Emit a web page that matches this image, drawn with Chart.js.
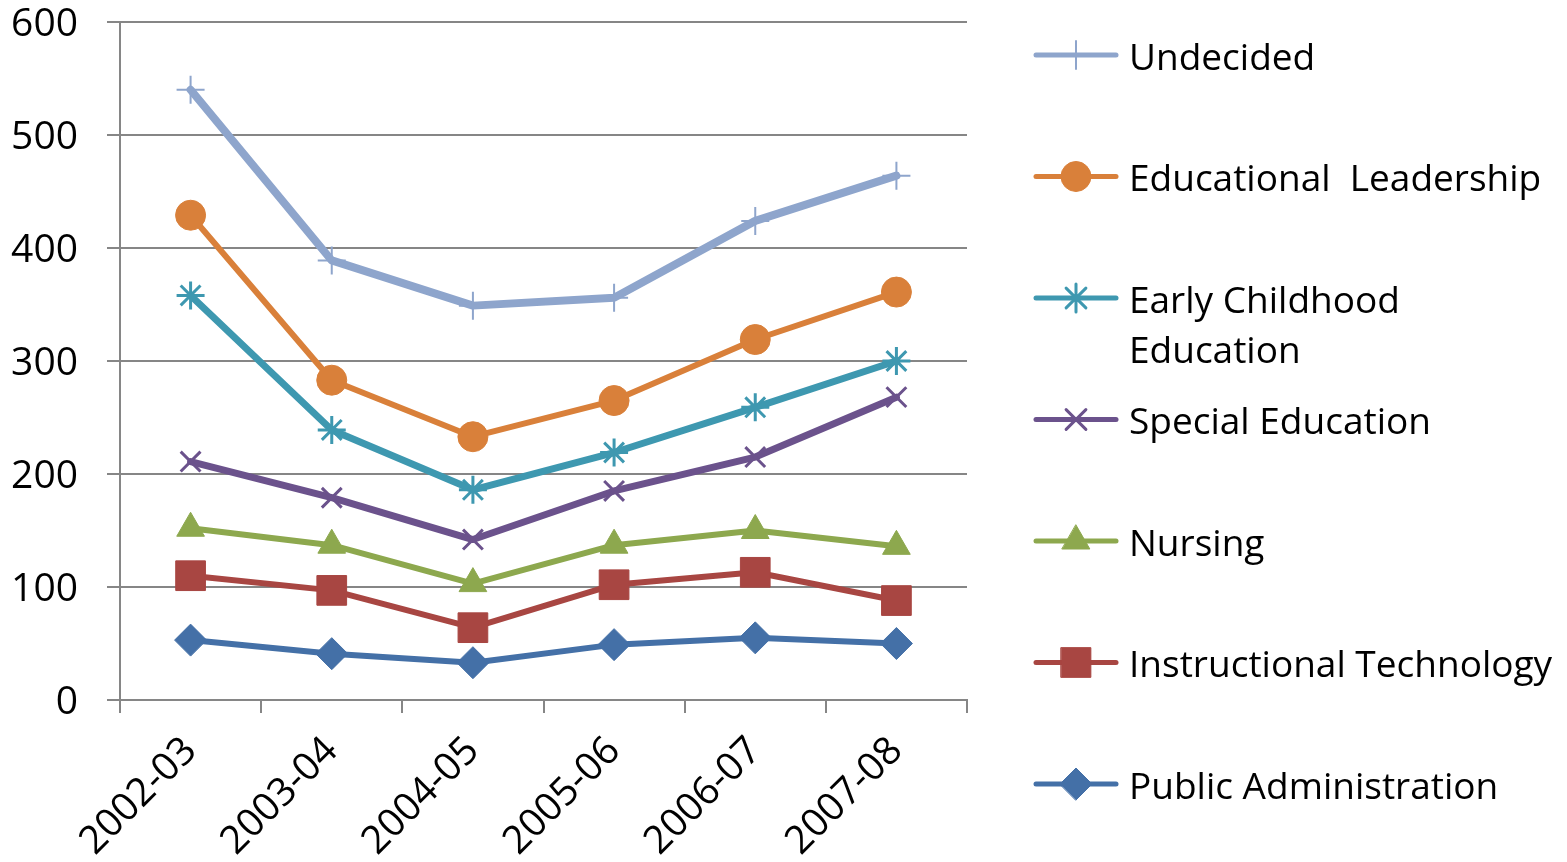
<!DOCTYPE html>
<html>
<head>
<meta charset="utf-8">
<script src="https://cdn.jsdelivr.net/npm/chart.js@4/dist/chart.umd.min.js"></script>
<style>
  html, body { margin: 0; padding: 0; background: #fff; }
  canvas { display: block; }
</style>
</head>
<body>
<canvas id="chart" width="1567" height="862"></canvas>
<script>
const years = ["2002-03", "2003-04", "2004-05", "2005-06", "2006-07", "2007-08"]
const yTicks = [0, 100, 200, 300, 400, 500, 600]

const seriesNames = ["Undecided", "Educational Leadership", "Early Childhood Education", "Special Education", "Nursing", "Instructional Technology", "Public Administration"]
const legendLines = [["Undecided"], ["Educational  Leadership"], ["Early Childhood", "Education"], ["Special Education"], ["Nursing"], ["Instructional Technology"], ["Public Administration"]]

const undecided = [540, 389, 349, 356, 424, 464]
const educationalLeadership = [429, 283, 233, 265, 319, 361]
const earlyChildhood = [358, 239, 186, 219, 259, 300]
const specialEducation = [211, 179, 142, 185, 215, 268]
const nursing = [152, 137, 103, 137, 150, 136]
const instructionalTechnology = [110, 97, 64, 102, 113, 88]
const publicAdministration = [53, 41, 33, 49, 55, 50]

const gray = "#868686"
const font = "'Open Sans', 'DejaVu Sans', sans-serif"

function series(label, data, color, style, radius, lineWidth, markerWidth) {
  return {
    label: label,
    data: data,
    borderColor: color,
    backgroundColor: color,
    borderWidth: lineWidth,
    borderJoinStyle: "round",
    borderCapStyle: "round",
    pointStyle: style,
    pointRadius: radius,
    pointHoverRadius: radius,
    pointBackgroundColor: color,
    pointBorderColor: color,
    pointBorderWidth: markerWidth,
    tension: 0
  }
}

// legend on the right, one row per series, second line for long names
const sideLegend = {
  id: "sideLegend",
  afterDraw(chart) {
    const ctx = chart.ctx
    ctx.save()
    chart.data.datasets.forEach((ds, i) => {
      const y = 55 + i * 121.5
      ctx.strokeStyle = ds.borderColor
      ctx.lineWidth = 5
      ctx.lineCap = "round"
      ctx.beginPath()
      ctx.moveTo(1036, y)
      ctx.lineTo(1116, y)
      ctx.stroke()
      ctx.fillStyle = ds.pointBackgroundColor
      ctx.strokeStyle = ds.pointBorderColor
      ctx.lineWidth = ds.pointBorderWidth
      Chart.helpers.drawPoint(ctx, {
        pointStyle: ds.pointStyle,
        radius: ds.pointRadius,
        rotation: 0,
        borderWidth: ds.pointBorderWidth
      }, 1076, y)
      ctx.fillStyle = "#000"
      ctx.font = "37px " + font
      ctx.textBaseline = "middle"
      ctx.textAlign = "left"
      legendLines[i].forEach((t, k) => ctx.fillText(t, 1129, y + 4 + k * 50))
    })
    ctx.restore()
  }
}

const ctx = document.getElementById("chart").getContext("2d")
new Chart(ctx, {
  type: "line",
  data: {
    labels: years,
    datasets: [
      series(seriesNames[0], undecided, "#8EA5CC", "cross", 14, 8, 2),
      series(seriesNames[1], educationalLeadership, "#D9803A", "circle", 15, 6, 1),
      series(seriesNames[2], earlyChildhood, "#3E98B0", "star", 14, 7, 3),
      series(seriesNames[3], specialEducation, "#6B528C", "crossRot", 14, 7, 3),
      series(seriesNames[4], nursing, "#8DA84E", "triangle", 16, 6, 1),
      series(seriesNames[5], instructionalTechnology, "#A84642", "rect", 21, 6, 1),
      series(seriesNames[6], publicAdministration, "#4470A7", "rectRot", 16, 6, 1)
    ]
  },
  options: {
    responsive: false,
    animation: false,
    layout: {
      padding: { top: 18, right: 600, left: 0, bottom: 0 }
    },
    scales: {
      x: {
        offset: true,
        grid: {
          offset: true,
          drawOnChartArea: false,
          drawTicks: true,
          tickLength: 13,
          color: gray,
          lineWidth: 2
        },
        border: { display: true, color: gray, width: 2 },
        ticks: {
          color: "#000",
          font: { family: font, size: 39 },
          maxRotation: 45,
          minRotation: 45,
          padding: 15
        },
        afterFit(scale) {
          scale.height = 162
          scale.paddingLeft = 0
          scale.paddingRight = 0
        }
      },
      y: {
        min: 0,
        max: 600,
        afterBuildTicks(scale) {
          scale.ticks = yTicks.map(v => ({ value: v }))
        },
        grid: {
          color: gray,
          lineWidth: 2,
          tickLength: 13
        },
        border: { display: true, color: gray, width: 2 },
        ticks: {
          color: "#000",
          font: { family: font, size: 39 },
          padding: 29,
          labelOffset: 3
        },
        afterFit(scale) {
          scale.width = 120
          scale.paddingTop = 0
          scale.paddingBottom = 0
        }
      }
    },
    plugins: {
      legend: { display: false },
      tooltip: { enabled: false }
    }
  },
  plugins: [sideLegend]
})
</script>
</body>
</html>
